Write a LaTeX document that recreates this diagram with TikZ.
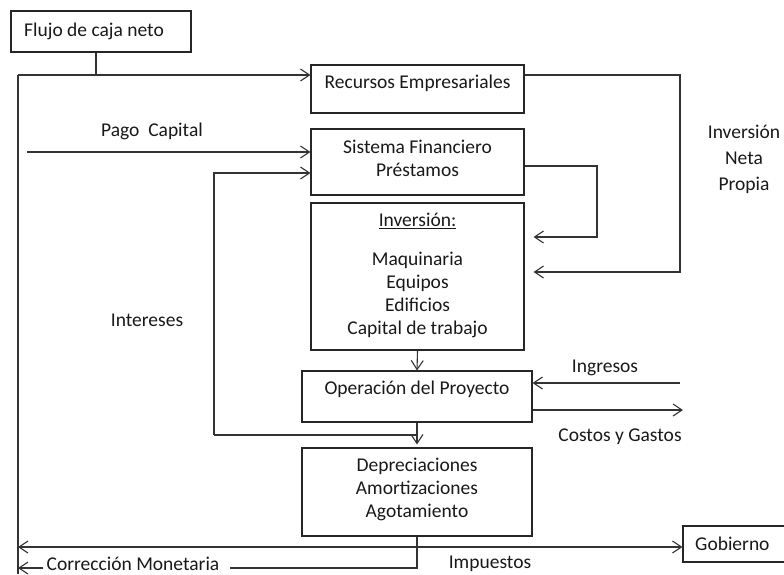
\documentclass[tikz,border=0pt]{standalone}
\usepackage{fontspec}
\setmainfont{Carlito}
\usetikzlibrary{arrows.meta,calc}

\tikzset{
  box/.style={draw=black!85, line width=1.1pt, inner sep=0pt, minimum width=#1},
  txt/.style={text=black!90, font=\fontsize{19.5}{23}\selectfont, align=center, inner sep=0pt},
  wire/.style={draw=black!80, line width=1.1pt},
  arr/.style={wire, -{Straight Barb[length=9pt,width=12pt,line width=1.1pt]}},
  arrboth/.style={wire, {Straight Barb[length=9pt,width=12pt,line width=1.1pt]}-{Straight Barb[length=9pt,width=12pt,line width=1.1pt]}},
}

\begin{document}
\begin{tikzpicture}[x=1pt,y=-1pt]
\useasboundingbox (0,0) rectangle (784,574);

% boxes
\node[box=180pt, minimum height=41pt] (flujo) at (101,31.5) {};
\node[box=213pt, minimum height=48pt] (recursos) at (417.5,89) {};
\node[box=213pt, minimum height=66pt] (sistema) at (417.5,162) {};
\node[box=213pt, minimum height=147pt] (inversion) at (417.5,276.5) {};
\node[box=230pt, minimum height=51pt] (operacion) at (417,396.5) {};
\node[box=230pt, minimum height=88pt] (deprec) at (417,492) {};
\node[box=107pt, minimum height=36pt] (gobierno) at (736.5,544) {};

% box texts
\node[txt, anchor=west] (tflujo) at (24,31) {Flujo de caja neto};
\node[txt] (trecursos) at (417.5,83) {Recursos Empresariales};
\node[txt] (tsistema) at (417.5,158.5) {Sistema Financiero\\Préstamos};
\node[txt] (tinversion) at (417.5,275.5) {\underline{Inversión:}\\[16pt]Maquinaria\\Equipos\\Edificios\\Capital de trabajo};
\node[txt] (toperacion) at (417,389) {Operación del Proyecto};
\node[txt] (tdeprec) at (417,489) {Depreciaciones\\Amortizaciones\\Agotamiento};
\node[txt, anchor=west] (tgobierno) at (695,544) {Gobierno};

% free labels
\node[txt] (lpago) at (152,131) {Pago\ \ Capital};
\node[txt, font=\fontsize{19.5}{26}\selectfont] (lneta) at (744,159) {Inversión\\Neta\\Propia};
\node[txt] (lintereses) at (147,320) {Intereses};
\node[txt] (lingresos) at (605,368) {Ingresos};
\node[txt] (lcostos) at (620,437) {Costos y Gastos};
\node[txt] (limpuestos) at (490,564) {Impuestos};
\node[txt] (lcorr) at (133,564) {Corrección Monetaria};

% junction points of the connectors
\coordinate (jn) at (96,75);
\coordinate (tl) at (18,75);
\coordinate (bl) at (18,574);
\coordinate (pc) at (27,152);
\coordinate (it) at (214,173);
\coordinate (ib) at (214,435);
\coordinate (sr) at (597,166);
\coordinate (sr2) at (597,237);
\coordinate (rr) at (680,75);
\coordinate (rr2) at (680,272);
\coordinate (ing) at (680,383);
\coordinate (cg) at (683,410);
\coordinate (gl) at (18,547);
\coordinate (dm) at (417,568);
\coordinate (cm) at (18,568);

% cash flow feeding back to the resources
\draw[wire] (flujo.south -| jn) -- (jn);
\draw[arr] (tl) -- (recursos.west |- tl);
\draw[wire] (tl) -- (bl);

% capital payments and interest to the financial system
\draw[arr] (pc) -- (sistema.west |- pc);
\draw[arr] (ib) -- (it) -- (sistema.west |- it);
\draw[wire] (ib) -- (ib -| operacion.south);

% financing of the investment
\draw[arr, shorten >=9pt] (sistema.east |- sr) -- (sr) -- (sr2) -- (inversion.east |- sr2);
\draw[arr, shorten >=9pt] (recursos.east |- rr) -- (rr) -- (rr2) -- (inversion.east |- rr2);

% project flow
\draw[arr] (inversion.south) -- (operacion.north);
\draw[arr, shorten >=3pt] (operacion.south) -- (deprec.north);
\draw[arr] (ing) -- (operacion.east |- ing);
\draw[arr] (operacion.east |- cg) -- (cg);

% taxes and monetary correction (the line breaks around its label)
\draw[arrboth] (gl) -- (gobierno.west |- gl);
\draw[wire] (deprec.south) -- (dm) -- ([xshift=10pt]lcorr.east |- dm);
\draw[arr] ([xshift=-3pt]lcorr.west |- cm) -- (cm);

\end{tikzpicture}
\end{document}
